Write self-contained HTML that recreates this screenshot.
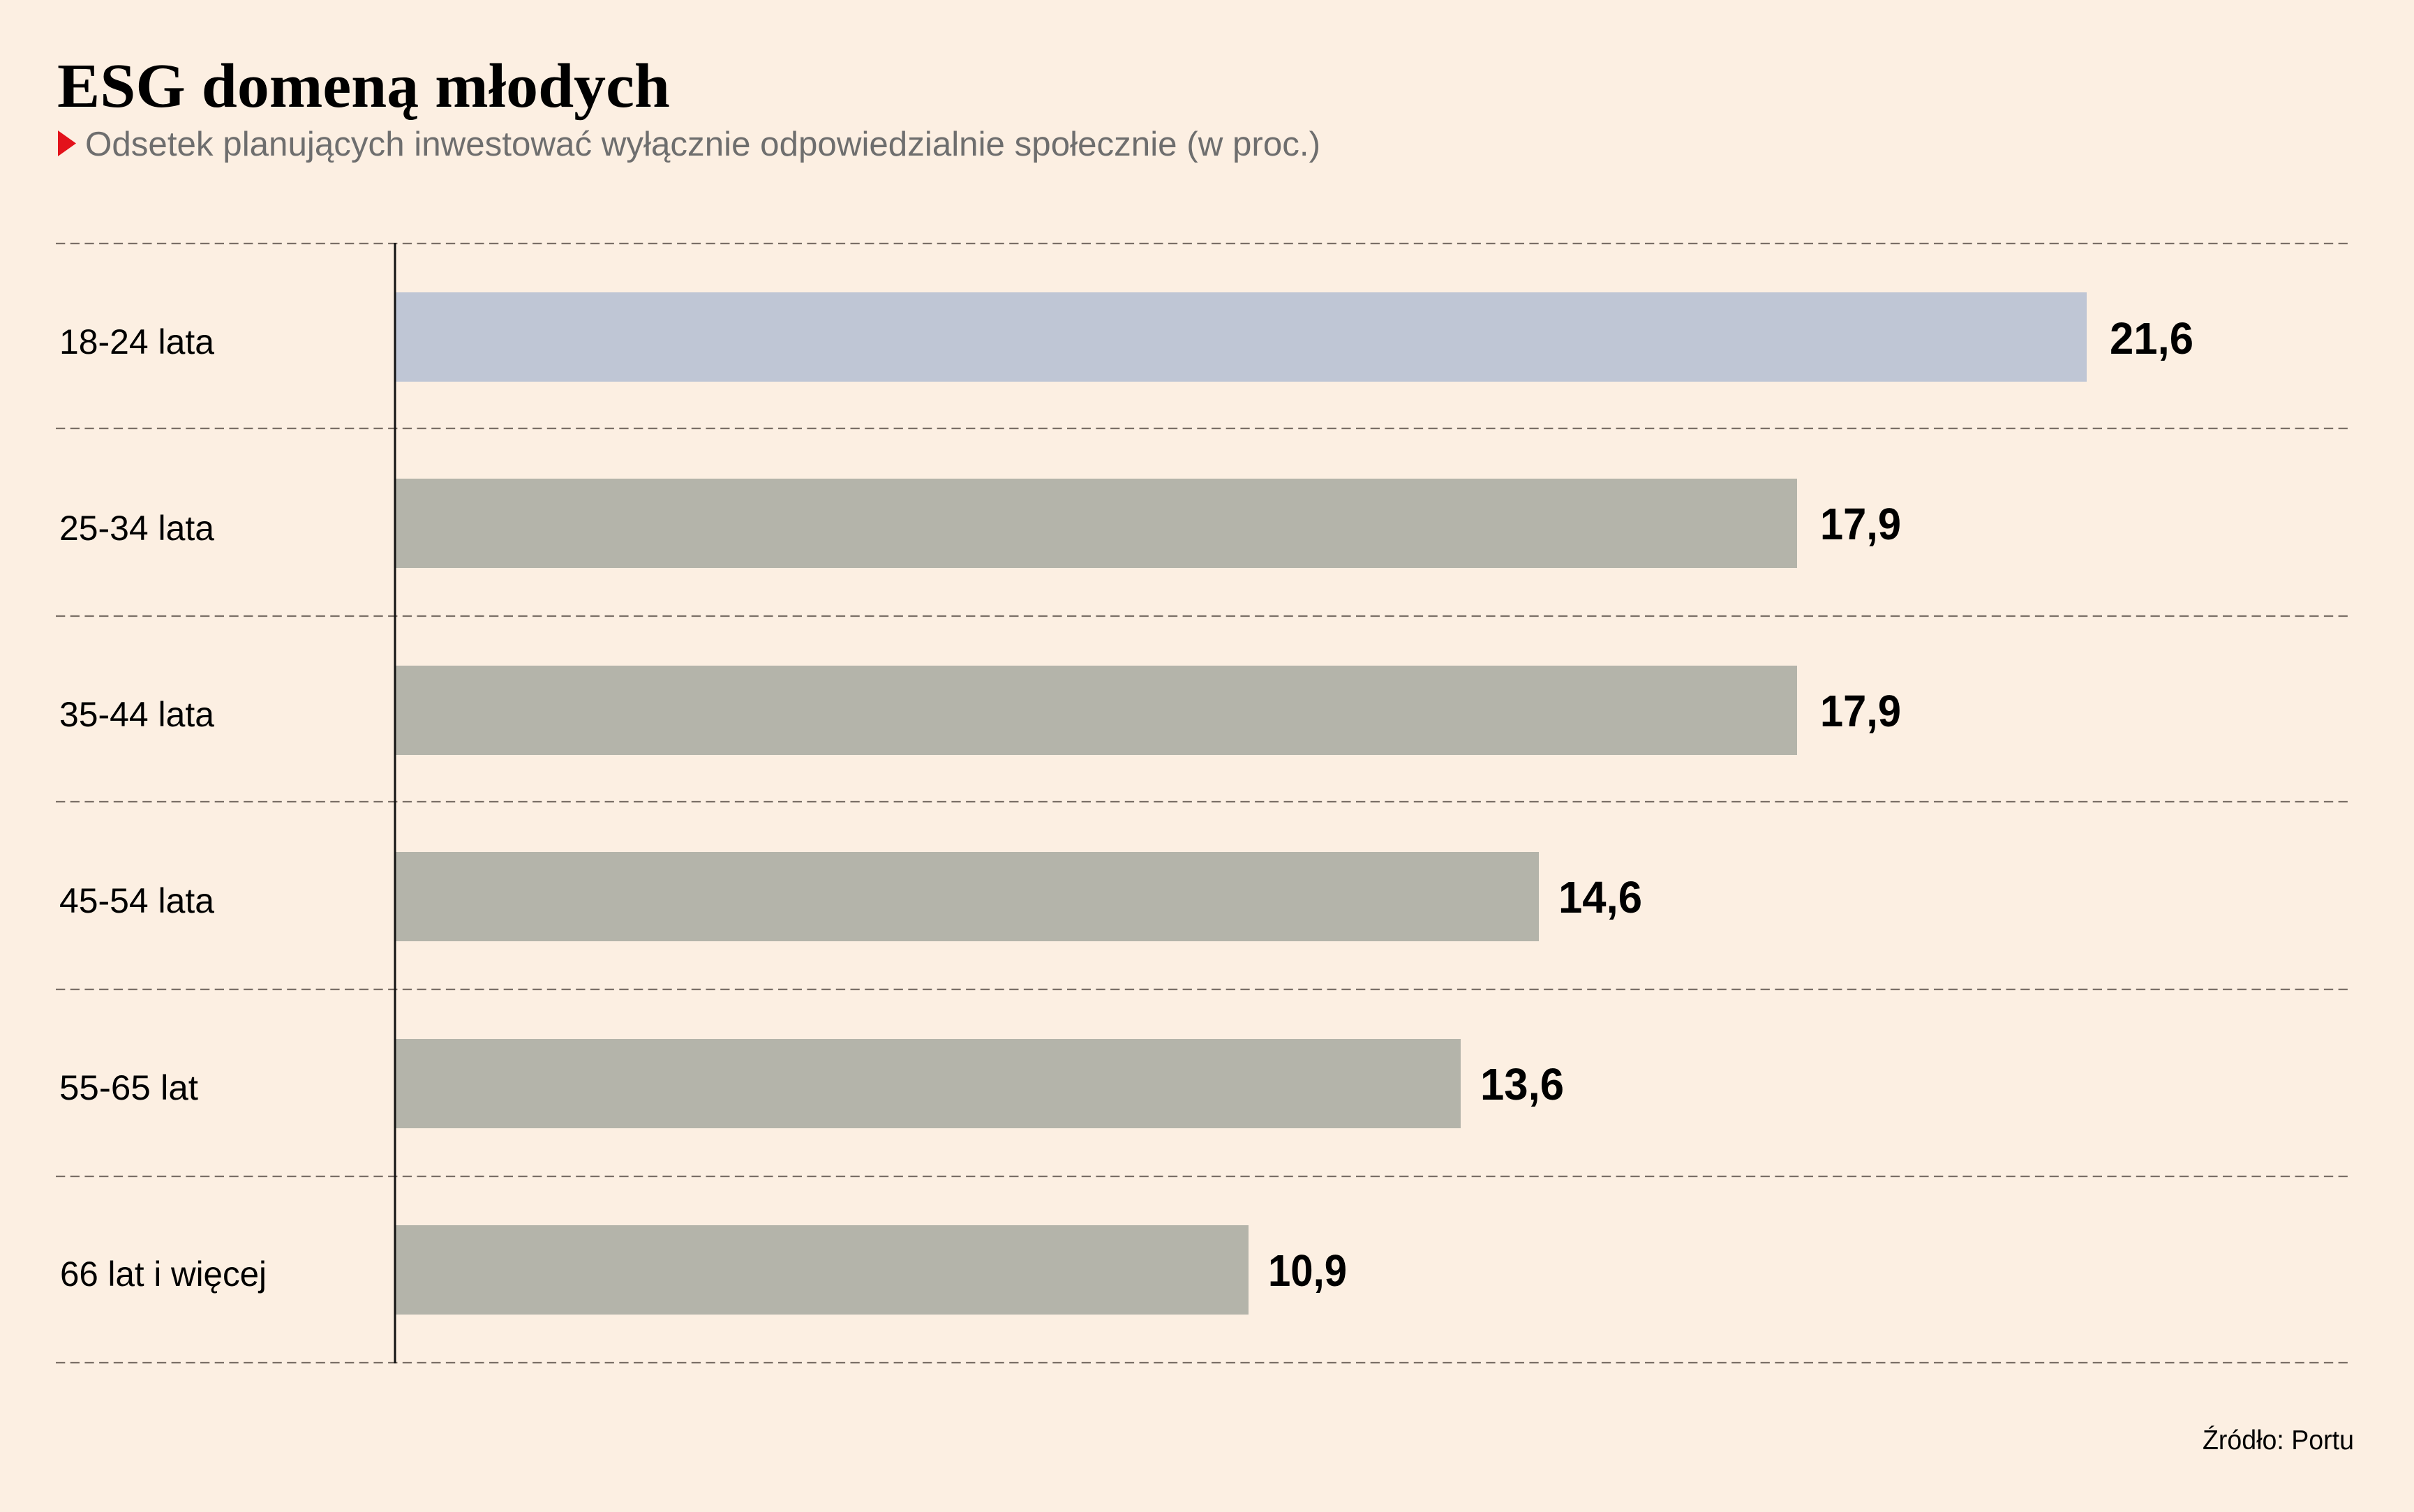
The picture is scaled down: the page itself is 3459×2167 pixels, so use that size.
<!DOCTYPE html>
<html>
<head>
<meta charset="utf-8">
<style>
html,body{margin:0;padding:0;background:#fcefe2;}
svg{display:block;}
</style>
</head>
<body>
<svg xmlns="http://www.w3.org/2000/svg" width="3459" height="2167" viewBox="0 0 3459 2167">
<rect x="0" y="0" width="3459" height="2167" fill="#fcefe2"/>

<!-- Title -->
<text x="82" y="153" font-family="'Liberation Serif', serif" font-weight="bold" font-size="90" fill="#000" textLength="878" lengthAdjust="spacingAndGlyphs">ESG domeną młodych</text>

<!-- Subtitle -->
<polygon points="83,187 109,205.5 83,224" fill="#e3121b"/>
<text x="122" y="223" font-family="'Liberation Sans', sans-serif" font-size="49" fill="#6e6e6e" textLength="1770" lengthAdjust="spacingAndGlyphs">Odsetek planujących inwestować wyłącznie odpowiedzialnie społecznie (w proc.)</text>

<!-- Dashed grid lines -->
<g stroke="#7a6f67" stroke-width="2.2" stroke-dasharray="13.3 7.4" fill="none">
<line x1="80" y1="349" x2="3365" y2="349"/>
<line x1="80" y1="614" x2="3365" y2="614"/>
<line x1="80" y1="883" x2="3365" y2="883"/>
<line x1="80" y1="1149" x2="3365" y2="1149"/>
<line x1="80" y1="1418" x2="3365" y2="1418"/>
<line x1="80" y1="1686" x2="3365" y2="1686"/>
<line x1="80" y1="1953" x2="3365" y2="1953"/>
</g>

<!-- Bars -->
<rect x="566" y="419" width="2424" height="128" fill="#bfc6d5"/>
<rect x="566" y="686" width="2009" height="128" fill="#b4b4aa"/>
<rect x="566" y="954" width="2009" height="128" fill="#b4b4aa"/>
<rect x="566" y="1221" width="1639" height="128" fill="#b4b4aa"/>
<rect x="566" y="1489" width="1527" height="128" fill="#b4b4aa"/>
<rect x="566" y="1756" width="1223" height="128" fill="#b4b4aa"/>

<!-- Axis -->
<rect x="564.5" y="348" width="3" height="1606" fill="#111"/>

<!-- Category labels -->
<g font-family="'Liberation Sans', sans-serif" font-size="50" fill="#000">
<text x="85" y="507" textLength="222" lengthAdjust="spacingAndGlyphs">18-24 lata</text>
<text x="85" y="774" textLength="222" lengthAdjust="spacingAndGlyphs">25-34 lata</text>
<text x="85" y="1041" textLength="222" lengthAdjust="spacingAndGlyphs">35-44 lata</text>
<text x="85" y="1308" textLength="222" lengthAdjust="spacingAndGlyphs">45-54 lata</text>
<text x="85" y="1576" textLength="199" lengthAdjust="spacingAndGlyphs">55-65 lat</text>
<text x="86" y="1843" textLength="296" lengthAdjust="spacingAndGlyphs">66 lat i więcej</text>
</g>

<!-- Value labels -->
<g font-family="'Liberation Sans', sans-serif" font-weight="bold" font-size="64" fill="#000">
<text x="3023" y="507" textLength="120" lengthAdjust="spacingAndGlyphs">21,6</text>
<text x="2608" y="773" textLength="116" lengthAdjust="spacingAndGlyphs">17,9</text>
<text x="2608" y="1041" textLength="116" lengthAdjust="spacingAndGlyphs">17,9</text>
<text x="2233" y="1308" textLength="120" lengthAdjust="spacingAndGlyphs">14,6</text>
<text x="2121" y="1576" textLength="120" lengthAdjust="spacingAndGlyphs">13,6</text>
<text x="1817" y="1843" textLength="113" lengthAdjust="spacingAndGlyphs">10,9</text>
</g>

<!-- Source -->
<text x="3156" y="2077" font-family="'Liberation Sans', sans-serif" font-size="39" fill="#000" textLength="217" lengthAdjust="spacingAndGlyphs">Źródło: Portu</text>
</svg>
</body>
</html>
